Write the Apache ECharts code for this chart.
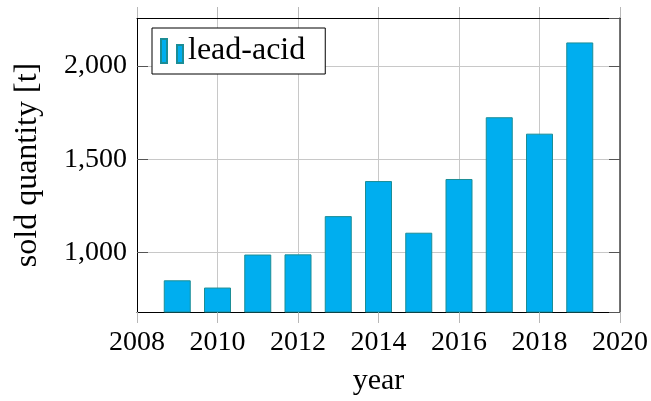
<!DOCTYPE html>
<html>
<head>
<meta charset="utf-8">
<script src="https://cdn.jsdelivr.net/npm/echarts@6/dist/echarts.min.js"></script>
<style>
  html, body { margin: 0; padding: 0; background: #fff; }
  #chart { width: 651px; height: 401px; }
</style>
</head>
<body>
<div id="chart"></div>
<script>
// Sold quantity of lead-acid batteries per year, in tonnes
const years = [2009, 2010, 2011, 2012, 2013, 2014, 2015, 2016, 2017, 2018, 2019];
const leadAcid = [851, 812, 989, 990, 1195, 1383, 1106, 1394, 1725, 1637, 2126];
const yearTicks = [2008, 2010, 2012, 2014, 2016, 2018, 2020];
const quantityTicks = [1000, 1500, 2000];

const FONT = 'Liberation Serif';
const chart = echarts.init(document.getElementById('chart'), null, { renderer: 'canvas' });

const xCommon = {
  type: 'value',
  min: yearTicks[0],
  max: yearTicks[yearTicks.length - 1],
  interval: 2,
  axisLine: { show: true, lineStyle: { color: '#000', width: 1 } },
  axisTick: { show: true, inside: false, length: 11, lineStyle: { color: '#b8b8b8', width: 1 } }
};

chart.setOption({
  animation: false,
  backgroundColor: '#fff',
  textStyle: { fontFamily: FONT },
  grid: { left: 137, right: 28, top: 18, bottom: 87, containLabel: false },
  legend: {
    left: 152,
    top: 28,
    orient: 'horizontal',
    padding: [7, 20, 7, 8],
    backgroundColor: '#fff',
    borderColor: '#000',
    borderWidth: 1,
    itemWidth: 22,
    itemHeight: 24,
    icon: 'path://M0,0h6v24h-6zM16,6h6v18h-6z',
    textStyle: { fontFamily: FONT, fontSize: 32, color: '#000' },
    data: ['lead-acid']
  },
  xAxis: [
    Object.assign({}, xCommon, {
      position: 'bottom',
      name: 'year',
      nameLocation: 'middle',
      nameGap: 54,
      nameTextStyle: { fontFamily: FONT, fontSize: 30, color: '#000' },
      splitLine: { show: true, lineStyle: { color: '#c8c8c8', width: 1 } },
      axisLabel: {
        margin: 17,
        fontFamily: FONT, fontSize: 28, color: '#000',
        formatter: v => String(v)
      }
    }),
    Object.assign({}, xCommon, {
      position: 'top',
      splitLine: { show: false },
      axisLabel: { show: false }
    })
  ],
  yAxis: [
    {
      type: 'value',
      position: 'left',
      min: 681,
      max: 2257,
      splitNumber: 3,
      name: 'sold quantity [t]',
      nameLocation: 'middle',
      nameGap: 93,
      nameTextStyle: { fontFamily: FONT, fontSize: 32, color: '#000' },
      axisLine: { show: true, lineStyle: { color: '#000', width: 1 } },
      axisTick: { show: true, inside: true, length: 11, lineStyle: { color: '#555', width: 1 } },
      splitLine: { show: true, lineStyle: { color: '#c8c8c8', width: 1 } },
      axisLabel: {
        margin: 10,
        fontFamily: FONT, fontSize: 28, color: '#000',
        showMinLabel: false, showMaxLabel: false,
        formatter: v => quantityTicks.includes(v) ? v.toLocaleString('en-US') : ''
      }
    },
    {
      type: 'value',
      position: 'right',
      min: 681,
      max: 2257,
      splitNumber: 3,
      axisLine: { show: true, lineStyle: { color: '#444', width: 1.5 } },
      axisTick: { show: true, inside: true, length: 11, lineStyle: { color: '#555', width: 1 } },
      splitLine: { show: false },
      axisLabel: { show: false }
    }
  ],
  series: [
    {
      name: 'lead-acid',
      type: 'bar',
      xAxisIndex: 0,
      yAxisIndex: 0,
      barWidth: 27,
      itemStyle: { color: '#00aeef', borderColor: '#1b8d96', borderWidth: 1 },
      data: years.map((y, i) => [y, leadAcid[i]])
    }
  ]
});
</script>
</body>
</html>
